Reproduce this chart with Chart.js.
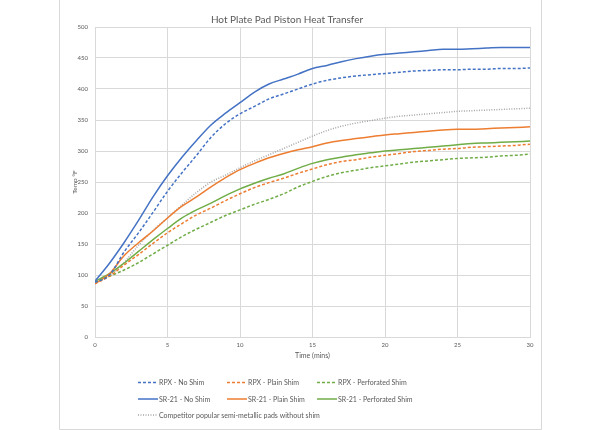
<!DOCTYPE html>
<html><head><meta charset="utf-8">
<script src="https://cdn.jsdelivr.net/npm/chart.js@4.4.1/dist/chart.umd.min.js"></script>
<style>html,body{margin:0;padding:0;background:#fff}#wrap{width:600px;height:430px;position:relative}</style>
</head><body><div id="wrap"><canvas id="c" width="600" height="430"></canvas></div>
<script>
const chartTitle = "Hot Plate Pad Piston Heat Transfer";
const xTitle = "Time (mins)";
const yTitle = "Temp °F";
const minutes = [0,1,2,3,4,5,6,7,8,9,10,11,12,13,14,15,16,17,18,19,20,21,22,23,24,25,26,27,28,29,30];
const seriesNames = ["RPX - No Shim","RPX - Plain Shim","RPX - Perforated Shim","SR-21 - No Shim","SR-21 - Plain Shim","SR-21 - Perforated Shim","Competitor popular semi-metallic pads without shim"];
const rpxNoShim   = [88,100,137,168,201,235,265,293,322,344,360,372,384,392,400,408,414,418,421,423,425,427,429,430,431,431,432,432,433,433,434];
const rpxPlain    = [86,98,116,133,151,168,183,197,208,220,231,241,249,256,264,271,278,283,286,290,293,296,299,301,303,304,306,307,308,309,311];
const rpxPerf     = [88,98,108,120,134,148,162,174,185,196,205,214,222,231,242,251,259,265,269,273,276,279,282,284,286,288,289,290,292,293,295];
const sr21NoShim  = [90,119,152,188,226,260,290,317,342,361,378,395,408,416,424,433,438,444,449,453,456,458,460,462,464,464,465,466,467,467,467];
const sr21Plain   = [86,102,131,152,171,192,211,226,242,257,270,280,289,296,302,307,313,317,320,323,326,328,330,332,334,335,335,336,337,338,339];
const sr21Perf    = [90,102,119,138,157,175,192,205,216,228,239,248,256,263,272,280,286,290,294,297,300,302,304,306,308,310,312,313,314,315,316];
const competitor  = [88,100,120,148,172,192,213,233,250,261,273,284,294,304,314,324,333,340,345,349,353,356,358,360,362,364,365,366,367,368,369];

const allValues = [rpxNoShim, rpxPlain, rpxPerf, sr21NoShim, sr21Plain, sr21Perf, competitor];
const colors = ["#4472C4","#ED7D31","#70AD47","#4472C4","#ED7D31","#70AD47","#A5A5A5"];
const dashes = [[3,2],[3,2],[3,2],[],[],[],[1,1.5]];
const FONT = "Lato, 'Liberation Sans', sans-serif";
const TXT = "#595959";

const datasets = allValues.map((vals, i) => ({
  label: seriesNames[i],
  data: vals.map((v, j) => ({x: minutes[j], y: v})),
  borderColor: colors[i],
  backgroundColor: colors[i],
  borderWidth: 1.5,
  borderDash: dashes[i],
  pointRadius: 0,
  fill: false,
  cubicInterpolationMode: 'monotone'
}));

const decor = {
  id: 'decor',
  afterDraw(chart) {
    const ctx = chart.ctx;
    ctx.save();
    ctx.strokeStyle = "#d9d9d9";
    ctx.lineWidth = 1;
    ctx.beginPath();
    ctx.moveTo(59.5, 0); ctx.lineTo(59.5, 429.5); ctx.lineTo(541.5, 429.5); ctx.lineTo(541.5, 0);
    ctx.stroke();
    ctx.fillStyle = TXT;
    ctx.font = "10px " + FONT;
    ctx.textAlign = "center";
    ctx.textBaseline = "middle";
    ctx.fillText(chartTitle, 287, 20);
    const cols = [138, 227, 317];
    const rows = [382.5, 399, 415];
    ctx.font = "7px " + FONT;
    ctx.textAlign = "left";
    chart.data.datasets.forEach((ds, i) => {
      const r = Math.floor(i / 3), c = i % 3;
      const x = cols[c], y = rows[r];
      ctx.strokeStyle = ds.borderColor;
      ctx.lineWidth = ds.borderWidth;
      ctx.setLineDash(ds.borderDash);
      ctx.beginPath(); ctx.moveTo(x, y); ctx.lineTo(x + 20, y); ctx.stroke();
      ctx.setLineDash([]);
      ctx.fillStyle = TXT;
      ctx.fillText(ds.label, x + 21, y + 0.5);
    });
    ctx.restore();
  }
};

new Chart(document.getElementById('c'), {
  type: 'line',
  data: { datasets },
  options: {
    responsive: false,
    animation: false,
    layout: { padding: { left: 59, right: 70, top: 27, bottom: 63 } },
    plugins: { legend: { display: false }, title: { display: false }, tooltip: { enabled: false } },
    scales: {
      x: {
        type: 'linear', min: 0, max: 30,
        ticks: { stepSize: 5, color: TXT, font: { family: FONT, size: 6 }, padding: 4, maxRotation: 0 },
        grid: { color: "#d9d9d9", drawTicks: false, lineWidth: 1 },
        border: { color: "#d9d9d9" },
        title: { display: true, text: xTitle, color: TXT, font: { family: FONT, size: 7 }, padding: { top: 0, bottom: 7 } },
        afterFit(s) { s.height = 30; }
      },
      y: {
        min: 0, max: 500,
        ticks: { stepSize: 50, color: TXT, font: { family: FONT, size: 6 }, padding: 7 },
        grid: { color: "#d9d9d9", drawTicks: false, lineWidth: 1 },
        border: { color: "#d9d9d9" },
        title: { display: true, text: yTitle, color: TXT, font: { family: FONT, size: 6.5 }, padding: { top: 12, bottom: 0 } },
        afterFit(s) { s.width = 36; }
      }
    }
  },
  plugins: [decor]
});
</script></body></html>
